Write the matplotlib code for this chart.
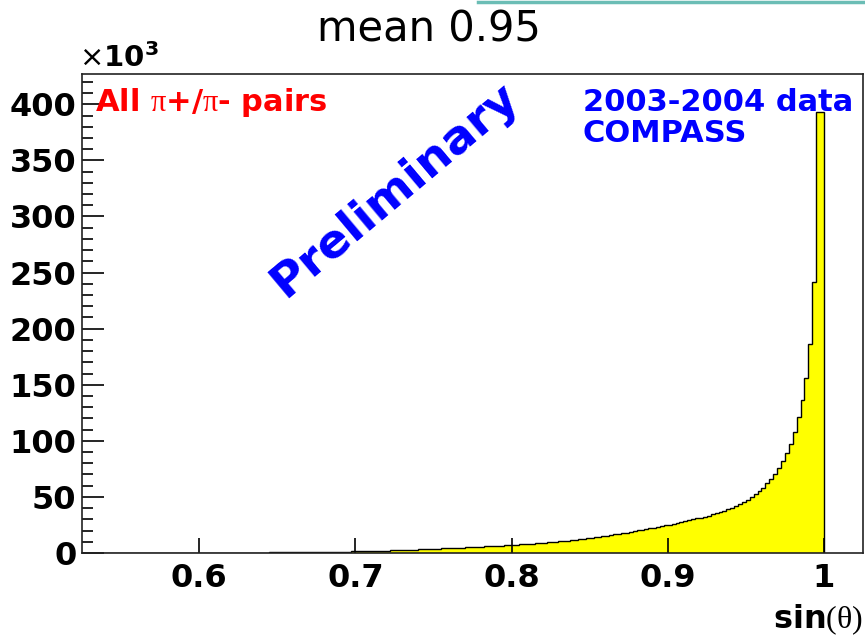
import matplotlib
matplotlib.use("Agg")
import matplotlib.pyplot as plt
import numpy as np
from matplotlib.lines import Line2D

# sin(theta) histogram, bin contents in units of 10^3 entries
bin_lo = 0.525
bin_width = 0.0025
counts = (
    [0.0] * 22
    + [0.02, 0.03, 0.05, 0.06,      # 0.58
       0.07, 0.08, 0.10, 0.11,      # 0.59
       0.12, 0.14, 0.15, 0.16,      # 0.60
       0.18, 0.20, 0.20, 0.22,      # 0.61
       0.25, 0.25, 0.25, 0.30,      # 0.62
       0.30, 0.30, 0.35, 0.35,      # 0.63
       0.40, 0.40, 0.45, 0.45,      # 0.64
       0.50, 0.50, 0.55, 0.55,      # 0.65
       0.60, 0.65, 0.65, 0.70,      # 0.66
       0.75, 0.80, 0.80, 0.85,      # 0.67
       0.90, 0.95, 1.00, 1.10,      # 0.68
       1.15, 1.20, 1.30, 1.35,      # 0.69
       1.45, 1.50, 1.60, 1.70,      # 0.70
       1.80, 1.90, 2.00, 2.10,      # 0.71
       2.20, 2.30, 2.40, 2.60,      # 0.72
       2.70, 2.80, 2.90, 3.10,      # 0.73
       3.20, 3.40, 3.50, 3.70,      # 0.74
       3.80, 3.90, 4.10, 4.20,      # 0.75
       4.40, 4.50, 4.70, 4.80,      # 0.76
       5.00, 5.20, 5.40, 5.50,      # 0.77
       5.70, 5.90, 6.00, 6.20,      # 0.78
       6.40, 6.60, 6.80, 7.00,      # 0.79
       7.20, 7.40, 7.60, 7.90,      # 0.80
       8.10, 8.40, 8.70, 8.90,      # 0.81
       9.20, 9.50, 9.80, 10.1,      # 0.82
       10.4, 10.8, 11.1, 11.5,      # 0.83
       11.8, 12.2, 12.6, 13.0,      # 0.84
       13.4, 13.9, 14.4, 14.9,      # 0.85
       15.4, 15.9, 16.5, 17.0,      # 0.86
       17.6, 18.2, 18.8, 19.4,      # 0.87
       20.2, 20.8, 21.4, 22.0,      # 0.88
       22.6, 23.3, 24.0, 24.7,      # 0.89
       25.4, 26.1, 26.9, 27.7,      # 0.90
       28.6, 29.4, 30.2, 31.0,      # 0.91
       31.5, 32.4, 33.4, 34.4,      # 0.92
       35.4, 36.6, 37.8, 39.0,      # 0.93
       40.5, 42.0, 43.5, 45.5,      # 0.94
       47.5, 50.0, 52.5, 55.0,      # 0.95
       58.0, 62.0, 66.0, 70.0,      # 0.96
       76.0, 82.0, 89.0, 97.0,      # 0.97
       108.0, 121.0, 136.0, 156.0,  # 0.98
       186.0, 242.0, 393.0, 393.0]  # 0.99
)

x_ticks = [0.6, 0.7, 0.8, 0.9, 1.0]
x_tick_labels = ["0.6", "0.7", "0.8", "0.9", "1"]
y_ticks = [0, 50, 100, 150, 200, 250, 300, 350, 400]

plt.rcParams["font.family"] = ["DejaVu Sans"]
plt.rcParams["mathtext.fontset"] = "custom"
plt.rcParams["mathtext.rm"] = "Liberation Serif"
plt.rcParams["mathtext.bf"] = "DejaVu Sans:bold"

fig = plt.figure(figsize=(8.65, 6.42), dpi=100)
ax = fig.add_axes([82 / 865, 89 / 642, 781 / 865, 479 / 642])

edges = bin_lo + bin_width * np.arange(len(counts) + 1)
ax.stairs(counts, edges, fill=True, color="#ffff00", baseline=0)
ax.stairs(counts, edges, color="black", lw=1.0, baseline=0)

ax.set_xlim(0.525, 1.025)
ax.set_ylim(0, 427)

ax.set_xticks(x_ticks)
ax.set_xticklabels(x_tick_labels)
ax.set_yticks(y_ticks)
ax.set_yticks(np.arange(0, 421, 10), minor=True)
ax.tick_params(axis="x", which="major", direction="in", length=11, width=1.2,
               pad=7, labelsize=23)
ax.tick_params(axis="y", which="major", direction="in", length=15.5, width=1.2,
               pad=4, labelsize=23)
ax.tick_params(axis="y", which="minor", direction="in", length=8, width=1.2)
for lab in ax.get_xticklabels() + ax.get_yticklabels():
    lab.set_fontweight("bold")
for sp in ax.spines.values():
    sp.set_linewidth(1.2)
    sp.set_color("#222222")

ax.text(1.0, -0.14, "sin" + r"$\mathrm{(\theta)}$", transform=ax.transAxes,
        ha="right", va="center", fontsize=23, fontweight="bold")
ax.text(0.5335, 402, "All " + r"$\mathrm{\pi}$" + "+/" + r"$\mathrm{\pi}$" + "- pairs",
        color="red", fontsize=22, fontweight="bold", ha="left", va="center")
ax.text(0.8457, 402, "2003-2004 data", color="#0000ff", fontsize=22,
        fontweight="bold", ha="left", va="center")
ax.text(0.8457, 374, "COMPASS", color="#0000ff", fontsize=22,
        fontweight="bold", ha="left", va="center")
ax.text(0.7254, 324, "Preliminary", color="#0000ff", fontsize=34,
        fontweight="bold", rotation=40, ha="center", va="center",
        rotation_mode="anchor")

# ROOT-style axis multiplier above the y axis
fig.text(79 / 865, 1 - 58 / 642, "×" + r"$\mathbf{10^{3}}$", fontsize=21,
         ha="left", va="center")
fig.text(429 / 865, 1 - 29 / 642, "mean 0.95", fontsize=30,
         ha="center", va="center")
fig.add_artist(Line2D([478 / 865, 1.0], [1 - 1.5 / 642] * 2, color="#6bbdb5", lw=2.5))

fig.savefig("out.png", dpi=100)
